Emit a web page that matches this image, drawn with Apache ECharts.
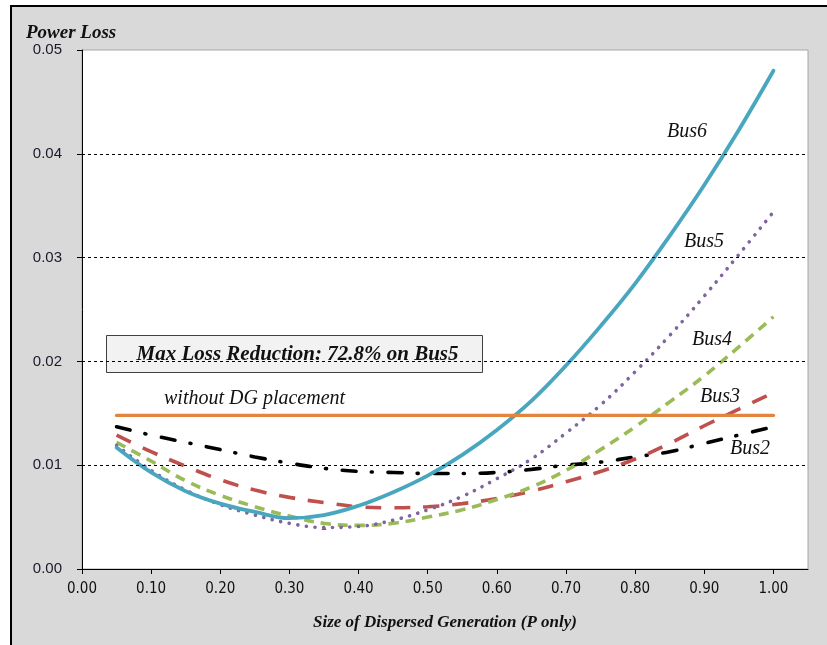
<!DOCTYPE html>
<html>
<head>
<meta charset="utf-8">
<script src="https://cdn.jsdelivr.net/npm/echarts@6/dist/echarts.min.js"></script>
<style>
  html, body { margin: 0; padding: 0; background: #fff; width: 827px; height: 645px; overflow: hidden; }
  #frame { position: absolute; left: 10px; top: 5px; width: 900px; height: 700px; border: 2px solid #000; background: #d9d9d9; }
  #chart { position: absolute; left: 0; top: 0; width: 827px; height: 645px; }
</style>
</head>
<body>
<div id="frame"></div>
<div id="chart"></div>
<script>
// ---- data ----
const dgSize = [0.05, 0.10, 0.15, 0.20, 0.25, 0.30, 0.35, 0.40, 0.45, 0.50,
                0.55, 0.60, 0.65, 0.70, 0.75, 0.80, 0.85, 0.90, 0.95, 1.00];
const bus2 = [0.0137, 0.0129, 0.0122, 0.0115, 0.0108, 0.0102, 0.0097, 0.0094, 0.0093, 0.0092,
              0.0092, 0.0093, 0.0096, 0.0100, 0.0103, 0.0108, 0.0113, 0.0121, 0.0129, 0.0137];
const bus3 = [0.0129, 0.0113, 0.0099, 0.0086, 0.0076, 0.0069, 0.0064, 0.0060, 0.0059, 0.0060,
              0.0063, 0.0068, 0.0075, 0.0084, 0.0094, 0.0106, 0.0121, 0.0138, 0.0154, 0.0170];
const bus4 = [0.0122, 0.0104, 0.0085, 0.0071, 0.0060, 0.0051, 0.0044, 0.0042, 0.0044, 0.0050,
              0.0057, 0.0067, 0.0079, 0.0095, 0.0115, 0.0137, 0.0161, 0.0186, 0.0214, 0.0243];
const bus5 = [0.0119, 0.0095, 0.0076, 0.0062, 0.0052, 0.0044, 0.0040, 0.0041, 0.0047, 0.0057,
              0.0070, 0.0087, 0.0106, 0.0131, 0.0158, 0.0190, 0.0225, 0.0263, 0.0303, 0.0344];
const bus6 = [0.0117, 0.0093, 0.0075, 0.0063, 0.0055, 0.0049, 0.0052, 0.0061, 0.0074, 0.0090,
              0.0110, 0.0134, 0.0162, 0.0196, 0.0234, 0.0275, 0.0321, 0.0370, 0.0423, 0.0480];
const baseX = [0.05, 1.00];
const baseLoss = 0.0148;
const minMarker = [[0.35, 0.0040]];
const gridValues = [0.01, 0.02, 0.03, 0.04];
const xTicks = [0.00, 0.10, 0.20, 0.30, 0.40, 0.50, 0.60, 0.70, 0.80, 0.90, 1.00];
const yTicks = [0.00, 0.01, 0.02, 0.03, 0.04, 0.05];
const busNames = ['Bus2', 'Bus3', 'Bus4', 'Bus5', 'Bus6'];

const pair = (ys) => dgSize.map((x, i) => [x, ys[i]]);

const chart = echarts.init(document.getElementById('chart'), null, { renderer: 'canvas' });
const serif = "'Liberation Serif', 'DejaVu Serif', serif";

const italicLabel = (text, left, cy) => ({
  type: 'text', left: left, top: cy - 11, z: 50,
  style: { text: text, font: "italic 20px " + serif, fill: '#111' }
});

chart.setOption({
  animation: false,
  backgroundColor: 'transparent',
  title: {
    text: 'Power Loss', left: 21, top: 19,
    textStyle: { fontFamily: serif, fontStyle: 'italic', fontWeight: 'bold', fontSize: 19, color: '#111' }
  },
  grid: {
    left: 82, right: 19, top: 50, bottom: 76,
    show: true, backgroundColor: '#fff', borderColor: '#a6a6a6', borderWidth: 1
  },
  xAxis: {
    type: 'value', min: 0, max: 1.05, interval: 0.1,
    name: 'Size of Dispersed Generation (P only)', nameLocation: 'middle', nameGap: 45,
    nameTextStyle: { fontFamily: serif, fontStyle: 'italic', fontWeight: 'bold', fontSize: 17, color: '#111' },
    axisLine: { show: true, onZero: false, lineStyle: { color: '#000', width: 1 } },
    axisTick: { show: true, length: 5, lineStyle: { color: '#000' } },
    axisLabel: {
      margin: 13, fontSize: 15, color: '#111',
      fontFamily: "'Liberation Sans Narrow', 'DejaVu Sans Condensed', sans-serif",
      formatter: (v) => (xTicks.some(t => Math.abs(t - v) < 1e-6) ? v.toFixed(2) : ''),
      showMaxLabel: false
    },
    splitLine: { show: false }
  },
  yAxis: {
    type: 'value', min: 0, max: 0.05, interval: 0.01,
    axisLine: { show: true, lineStyle: { color: '#000', width: 1 } },
    axisTick: { show: true, length: 5, lineStyle: { color: '#000' } },
    axisLabel: {
      margin: 20, fontSize: 15, color: '#1a1a2a',
      fontFamily: "'Liberation Sans', 'DejaVu Sans', sans-serif",
      formatter: (v) => (yTicks.some(t => Math.abs(t - v) < 1e-9) ? v.toFixed(2) : '')
    },
    splitLine: { show: false }
  },
  series: [
    {
      name: 'grid', type: 'line', data: [], silent: true,
      markLine: {
        silent: true, symbol: ['none', 'none'], label: { show: false },
        lineStyle: { type: [3, 3], color: '#000', width: 1 },
        data: gridValues.map(v => ({ yAxis: v }))
      }
    },
    {
      name: busNames[0], type: 'line', data: pair(bus2), smooth: 0.4, showSymbol: false,
      lineStyle: { color: '#000', width: 3.6, type: [14, 15, 1, 16], cap: 'round' }
    },
    {
      name: busNames[1], type: 'line', data: pair(bus3), smooth: 0.4, showSymbol: false,
      lineStyle: { color: '#c0504d', width: 3.6, type: [16, 13] }
    },
    {
      name: busNames[2], type: 'line', data: pair(bus4), smooth: 0.4, showSymbol: false,
      lineStyle: { color: '#9bbb59', width: 3.6, type: [10, 7] }
    },
    {
      name: busNames[3], type: 'line', data: pair(bus5), smooth: 0.4, showSymbol: false,
      lineStyle: { color: '#8064a2', width: 3.6, type: [0.1, 8.6], cap: 'round' }
    },
    {
      name: busNames[4], type: 'line', data: pair(bus6), smooth: 0.4, showSymbol: false,
      lineStyle: { color: '#48a6bf', width: 3.8, cap: 'round' }
    },
    {
      name: 'without DG', type: 'line', data: baseX.map(x => [x, baseLoss]), showSymbol: false,
      lineStyle: { color: '#e3843d', width: 3.4, cap: 'round' }
    },
    {
      name: 'min', type: 'scatter', data: minMarker, symbol: 'triangle', symbolSize: 5,
      itemStyle: { color: '#e00000' }, silent: true
    }
  ],
  graphic: [
    {
      type: 'group', left: 106, top: 335, z: 60,
      children: [
        { type: 'rect', shape: { x: 0, y: 0, width: 376, height: 37 },
          style: { fill: '#f2f2f2', stroke: '#404040', lineWidth: 1 } },
        { type: 'text', x: 191, y: 19,
          style: { text: 'Max Loss Reduction: 72.8% on Bus5', font: "italic bold 21px " + serif,
                   fill: '#111', align: 'center', verticalAlign: 'middle' } }
      ]
    },
    { type: 'text', left: 164, top: 389, z: 50,
      style: { text: 'without DG placement', font: "italic 20px " + serif, fill: '#111' } },
    italicLabel('Bus6', 667, 133),
    italicLabel('Bus5', 684, 243),
    italicLabel('Bus4', 692, 341),
    italicLabel('Bus3', 700, 398),
    italicLabel('Bus2', 730, 450)
  ]
});
</script>
</body>
</html>
